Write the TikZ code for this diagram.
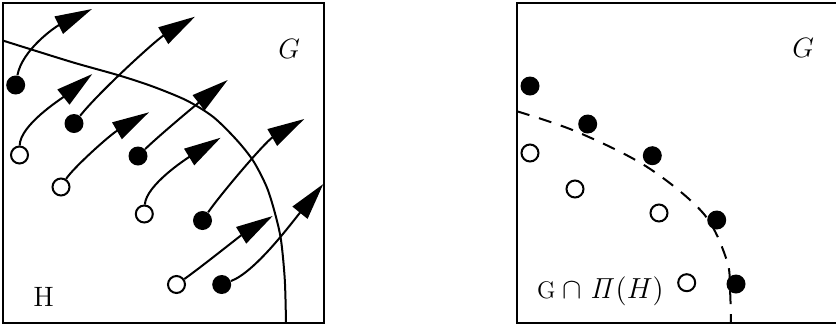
\RequirePackage{fix-cm}
\documentclass[tikz,border=0pt]{standalone}
\usetikzlibrary{arrows.meta}
\begin{document}
\begin{tikzpicture}[x=0.5pt,y=-0.5pt,
  frame/.style={line width=1.1pt},
  bound/.style={line width=1pt},
  fdot/.style={circle,fill=black,inner sep=0pt,minimum size=9.5pt},
  odot/.style={circle,draw=black,fill=white,line width=1pt,inner sep=0pt,minimum size=8.5pt},
  flow/.style={line width=1pt,-{Triangle[length=18.5pt,width=9.5pt]}},
  lab/.style={font=\fontsize{14}{16}\selectfont,inner sep=0pt}]
\useasboundingbox (0,0) rectangle (836,328);
\clip (0,0) rectangle (836,328);

% ---------- left panel ----------
\draw[frame] (2.7,2.7) rectangle (324.3,322.7);
\draw[bound] plot[smooth,tension=0.5] coordinates {(2.7,40.5) (33,50) (75,63) (120,75.7) (153.3,86.7) (186.7,100.5) (213.3,117) (236.7,140) (253.3,161) (266.7,187) (275,213.3) (281,240) (284.8,280) (286,323)};

\node[fdot] (f1) at (15.7,85) {};
\node[fdot] (f2) at (74,123.5) {};
\node[fdot] (f3) at (138,156) {};
\node[fdot] (f4) at (202.5,220.5) {};
\node[fdot] (f5) at (221.7,284.5) {};
\node[odot] (o1) at (19.5,155) {};
\node[odot] (o2) at (61,187) {};
\node[odot] (o3) at (144.3,214) {};
\node[odot] (o4) at (176.5,284.5) {};

\coordinate (t1) at (92,9);
\coordinate (t2) at (92.3,74);
\coordinate (t3) at (195,16.7);
\coordinate (t4) at (149,112.3);
\coordinate (t5) at (227.7,80);
\coordinate (t6) at (220.7,137.7);
\coordinate (t7) at (304.3,119);
\coordinate (t8) at (272.7,216);
\coordinate (t9) at (323.3,184);

\draw[flow] (f1) .. controls (22,50) and (55,27) .. (t1);
\draw[flow] (o1) .. controls (20,125) and (61,99) .. (t2);
\draw[flow] (f2) .. controls (99,92) and (156,40) .. (t3);
\draw[flow] (o2) .. controls (73,168) and (110,134.8) .. (t4);
\draw[flow] (f3) .. controls (159.7,135) and (196,104.8) .. (t5);
\draw[flow] (o3) .. controls (146,185) and (186.7,158.5) .. (t6);
\draw[flow] (f4) .. controls (220,195) and (265.4,141.5) .. (t7);
\draw[flow] (o4) .. controls (200,268) and (240,236) .. (t8);
\draw[flow] (f5) .. controls (255,272) and (290,225) .. (t9);

\node[lab] (gl) at (289.3,48.5) {$G$};
\node[lab] (hl) at (43.7,297) {H};

% ---------- right panel ----------
\draw[frame] (516.7,2.7) rectangle (839,322.7);
\draw[bound,dash pattern=on 6.5pt off 5pt] plot[smooth,tension=0.55] coordinates {(517,111.3) (576.7,131.7) (646.7,166.7) (703.3,213.3) (726.7,260) (730,290) (731,323)};

\node[fdot] (rf1) at (530,86) {};
\node[fdot] (rf2) at (587.7,124) {};
\node[fdot] (rf3) at (652.3,155.7) {};
\node[fdot] (rf4) at (716.7,220) {};
\node[fdot] (rf5) at (736,284) {};
\node[odot] (ro1) at (530,153) {};
\node[odot] (ro2) at (575,189) {};
\node[odot] (ro3) at (659,213) {};
\node[odot] (ro4) at (686.7,282.7) {};

\node[lab] (gr) at (803.3,48.3) {$G$};
\node[inner sep=0pt,anchor=base west] (gph) at (536.7,298.3)
  {{\fontsize{12}{14}\selectfont G}\hspace{3.6pt}{\fontsize{14.5}{16}\selectfont$\cap\hspace{4pt}\mathit{\Pi}(H)$}};
\end{tikzpicture}
\end{document}
